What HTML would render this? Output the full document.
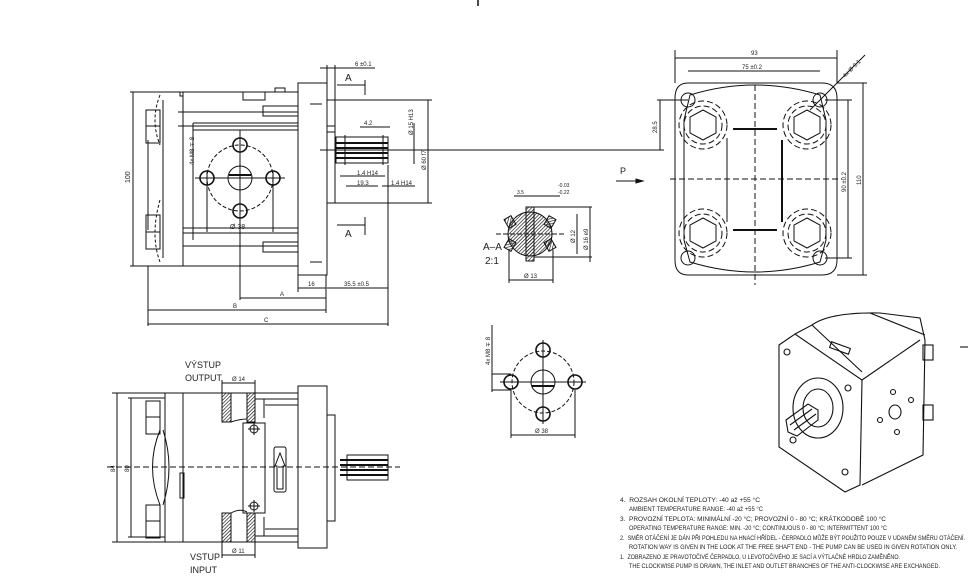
<!DOCTYPE html>
<html><head><meta charset="utf-8"><style>
html,body{margin:0;padding:0;background:#fff}
svg{display:block}
text{font-family:"Liberation Sans",sans-serif;fill:#222}
</style></head><body>
<svg width="975" height="577" viewBox="0 0 975 577" xmlns="http://www.w3.org/2000/svg" stroke="#111" fill="none" stroke-width="1">
<line x1="478" y1="0" x2="478" y2="6" stroke-width="1.5"/>
<!-- ===== Side view top ===== -->
<g>
<line x1="130" y1="92" x2="298" y2="92"/>
<line x1="130" y1="266" x2="298" y2="266"/>
<line x1="183" y1="92" x2="183" y2="266"/>
<rect x="180" y="92" width="3" height="4"/>
<path d="M160 95 Q150 120 160 145 M160 200 Q150 235 160 262" stroke-dasharray="3 2"/>
<rect x="146" y="110" width="14" height="33"/><line x1="146" y1="126" x2="160" y2="126"/>
<rect x="146" y="215" width="14" height="34"/><line x1="146" y1="232" x2="160" y2="232"/>
<line x1="163" y1="100" x2="163" y2="258"/>
<line x1="148" y1="140" x2="148" y2="230"/>
<line x1="178" y1="112" x2="298" y2="112"/><line x1="178" y1="126" x2="298" y2="126"/>
<line x1="193" y1="123" x2="298" y2="123"/><line x1="193" y1="130" x2="298" y2="130"/>
<line x1="183" y1="228" x2="298" y2="228"/><line x1="183" y1="233" x2="298" y2="233"/>
<line x1="183" y1="246" x2="298" y2="246"/>
<rect x="263" y="106" width="35" height="10"/>
<rect x="263" y="242" width="35" height="10"/>
<path d="M243 92 V100 H265 V92"/><rect x="275" y="88" width="10" height="4"/>
<line x1="193" y1="123" x2="193" y2="240"/>
<rect x="298" y="83" width="29" height="192"/>
<rect x="327" y="100" width="8" height="103"/>
<line x1="327" y1="126" x2="335" y2="126"/><line x1="327" y1="132" x2="335" y2="132"/>
<line x1="310" y1="104" x2="322" y2="104"/><line x1="310" y1="262" x2="322" y2="262"/>
<rect x="336" y="137" width="52" height="26"/>
<line x1="336" y1="143" x2="388" y2="143" stroke-width="2"/>
<line x1="336" y1="148" x2="388" y2="148" stroke-width="2"/>
<line x1="336" y1="153" x2="388" y2="153" stroke-width="2"/>
<line x1="336" y1="158" x2="388" y2="158" stroke-width="2"/>
<line x1="345" y1="135" x2="345" y2="165"/><line x1="383" y1="135" x2="383" y2="165"/>
<line x1="320" y1="150" x2="460" y2="150"/>
<circle cx="240" cy="178" r="33" stroke-dasharray="4 2"/>
<circle cx="240" cy="178" r="12"/>
<line x1="229" y1="175" x2="251" y2="175" stroke-width="2"/>
<circle cx="207" cy="178" r="7" stroke-width="1.6"/><circle cx="273" cy="178" r="7" stroke-width="1.6"/>
<circle cx="240" cy="145" r="7" stroke-width="1.6"/><circle cx="240" cy="211" r="7" stroke-width="1.6"/>
<line x1="195" y1="178" x2="285" y2="178"/><line x1="240" y1="130" x2="240" y2="300"/>
<line x1="207" y1="172" x2="207" y2="232"/><line x1="273" y1="172" x2="273" y2="232"/>
<line x1="207" y1="228" x2="273" y2="228"/>
<text x="230" y="229" font-size="7" stroke="none">Ø 38</text>
<line x1="193" y1="170" x2="193" y2="192"/>
<text transform="translate(194,165) rotate(-90)" font-size="6" stroke="none">4x M8 ∓ 8</text>
<line x1="133" y1="92" x2="133" y2="266"/>
<text transform="translate(130,183) rotate(-90)" font-size="7" stroke="none">100</text>
<line x1="148" y1="266" x2="148" y2="326"/>
<line x1="298" y1="275" x2="298" y2="292"/>
<line x1="326" y1="275" x2="326" y2="313"/>
<line x1="388" y1="165" x2="388" y2="326"/>
<line x1="298" y1="288" x2="326" y2="288"/><line x1="327" y1="288" x2="388" y2="288"/>
<text x="308" y="286" font-size="6" stroke="none">16</text>
<text x="344" y="286" font-size="6" stroke="none">35.5 ±0.5</text>
<line x1="240" y1="298" x2="326" y2="298"/><text x="280" y="296" font-size="6" stroke="none">A</text>
<line x1="148" y1="310" x2="326" y2="310"/><text x="233" y="308" font-size="6" stroke="none">B</text>
<line x1="148" y1="324" x2="388" y2="324"/><text x="264" y="322" font-size="6" stroke="none">C</text>
<line x1="320" y1="68" x2="375" y2="68"/><text x="355" y="66" font-size="6" stroke="none">6 ±0.1</text>
<line x1="327" y1="65" x2="327" y2="83"/><line x1="335" y1="65" x2="335" y2="100"/>
<text x="345" y="81" font-size="10" stroke="none">A</text>
<path d="M337 85 H365 M365 80 V95"/>
<text x="345" y="237" font-size="10" stroke="none">A</text>
<path d="M337 225 H365 M365 217 V235"/>
<line x1="335" y1="100" x2="432" y2="100"/><line x1="335" y1="203" x2="432" y2="203"/>
<line x1="428" y1="100" x2="428" y2="203"/>
<text transform="translate(426,170) rotate(-90)" font-size="6" stroke="none">Ø 60 f7</text>
<line x1="414" y1="123" x2="414" y2="164"/>
<text transform="translate(413,135) rotate(-90)" font-size="6" stroke="none">Ø 15 H13</text>
<line x1="360" y1="127" x2="390" y2="127"/><text x="364" y="125" font-size="6" stroke="none">4.2</text>
<line x1="340" y1="176" x2="385" y2="176"/><text x="357" y="175" font-size="6" stroke="none">1.4 H14</text>
<line x1="346" y1="186" x2="378" y2="186"/><text x="357" y="185" font-size="6" stroke="none">19.3</text>
<line x1="382" y1="186" x2="415" y2="186"/><text x="391" y="185" font-size="6" stroke="none">1.4 H14</text>
</g>
<!-- ===== Front view ===== -->
<g>
<line x1="460" y1="150" x2="664" y2="150"/>
<path d="M688 83 H822 Q837 83 837 98 V260 Q837 275 822 275 H688 Q675 275 675 260 V98 Q675 83 688 83 Z"/>
<path d="M690 95 Q755 75 820 95 L826 120 V240 L820 262 Q755 282 690 262 L684 240 V120 Z"/>
<circle cx="688" cy="100" r="7"/><circle cx="820" cy="100" r="7"/>
<circle cx="688" cy="258" r="7"/><circle cx="820" cy="258" r="7"/>
<polygon points="703,110 716,117 716,133 703,140 690,133 690,117"/><circle cx="703" cy="125" r="19" stroke-dasharray="6 3"/><circle cx="703" cy="125" r="24" stroke-dasharray="6 3"/>
<polygon points="807,110 820,117 820,133 807,140 794,133 794,117"/><circle cx="807" cy="125" r="19" stroke-dasharray="6 3"/><circle cx="807" cy="125" r="24" stroke-dasharray="6 3"/>
<polygon points="703,218 716,225 716,241 703,248 690,241 690,225"/><circle cx="703" cy="233" r="19" stroke-dasharray="6 3"/><circle cx="703" cy="233" r="24" stroke-dasharray="6 3"/>
<polygon points="807,218 820,225 820,241 807,248 794,241 794,225"/><circle cx="807" cy="233" r="19" stroke-dasharray="6 3"/><circle cx="807" cy="233" r="24" stroke-dasharray="6 3"/>
<line x1="733" y1="129" x2="777" y2="129" stroke-width="2"/><line x1="733" y1="230" x2="777" y2="230" stroke-width="2"/>
<line x1="727" y1="138" x2="727" y2="222"/><line x1="782" y1="140" x2="782" y2="222" stroke-width="2"/>
<line x1="755" y1="85" x2="755" y2="285" stroke-dasharray="6 3"/>
<line x1="670" y1="179" x2="842" y2="179" stroke-dasharray="6 3"/>
<line x1="675" y1="50" x2="675" y2="83"/><line x1="837" y1="50" x2="837" y2="83"/>
<line x1="675" y1="58" x2="837" y2="58"/><text x="751" y="55" font-size="6" stroke="none">93</text>
<line x1="688" y1="71" x2="820" y2="71"/><text x="742" y="69" font-size="6" stroke="none">75 ±0.2</text>
<line x1="810" y1="110" x2="865" y2="55"/><text transform="translate(845,78) rotate(-45)" font-size="6" stroke="none">4x Ø 9.1</text>
<line x1="657" y1="100" x2="688" y2="100"/><line x1="660" y1="100" x2="660" y2="150"/>
<text transform="translate(657,133) rotate(-90)" font-size="6" stroke="none">28.5</text>
<line x1="825" y1="100" x2="852" y2="100"/><line x1="825" y1="258" x2="852" y2="258"/>
<line x1="848" y1="100" x2="848" y2="258"/><text transform="translate(846,192) rotate(-90)" font-size="6" stroke="none">90 ±0.2</text>
<line x1="837" y1="83" x2="867" y2="83"/><line x1="837" y1="275" x2="867" y2="275"/>
<line x1="863" y1="83" x2="863" y2="275"/><text transform="translate(861,185) rotate(-90)" font-size="6" stroke="none">110</text>
<text x="620" y="174" font-size="9" stroke="none">P</text>
<path d="M616 181 H643"/><polygon points="643,181 636,179 636,183" fill="#111"/>
</g>
<!-- ===== A-A section ===== -->
<g>
<defs><pattern id="h" width="2.5" height="2.5" patternUnits="userSpaceOnUse" patternTransform="rotate(45)"><line x1="0" y1="0" x2="0" y2="2.5" stroke="#111" stroke-width="1.3"/></pattern></defs>
<circle cx="530" cy="234" r="22" fill="url(#h)"/>
<rect x="526" y="207" width="8" height="54" fill="url(#h)"/>
<rect x="506" y="217" width="8" height="10" fill="url(#h)" transform="rotate(-30 510 222)"/>
<rect x="546" y="217" width="8" height="10" fill="url(#h)" transform="rotate(30 550 222)"/>
<rect x="506" y="240" width="8" height="10" fill="url(#h)" transform="rotate(30 510 245)"/>
<rect x="546" y="240" width="8" height="10" fill="url(#h)" transform="rotate(-30 550 245)"/>
<line x1="496" y1="234" x2="566" y2="234" stroke-dasharray="5 2"/>
<text x="483" y="250" font-size="10" stroke="none">A–A</text>
<text x="485" y="264" font-size="10" stroke="none">2:1</text>
<line x1="514" y1="196" x2="560" y2="196"/><text x="517" y="194" font-size="5" stroke="none">3.5</text>
<text x="558" y="187" font-size="5" stroke="none">-0.03</text><text x="558" y="194" font-size="5" stroke="none">-0.22</text>
<line x1="534" y1="207" x2="592" y2="207"/><line x1="534" y1="257" x2="592" y2="257"/>
<line x1="577" y1="214" x2="577" y2="254"/><line x1="590" y1="207" x2="590" y2="262"/>
<text transform="translate(575,243) rotate(-90)" font-size="6" stroke="none">Ø 12</text>
<text transform="translate(588,250) rotate(-90)" font-size="6" stroke="none">Ø 16 e9</text>
<line x1="509" y1="250" x2="509" y2="283"/><line x1="553" y1="250" x2="553" y2="283"/>
<line x1="509" y1="280" x2="553" y2="280"/><text x="524" y="278" font-size="6" stroke="none">Ø 13</text>
</g>
<!-- ===== small port view ===== -->
<g>
<circle cx="543" cy="382" r="31" stroke-dasharray="4 2"/>
<circle cx="543" cy="382" r="12"/>
<line x1="532" y1="386" x2="554" y2="386" stroke-width="2"/>
<circle cx="511" cy="382" r="7" stroke-width="1.6"/><circle cx="575" cy="382" r="7" stroke-width="1.6"/>
<circle cx="543" cy="350" r="7" stroke-width="1.6"/><circle cx="543" cy="414" r="7" stroke-width="1.6"/>
<line x1="500" y1="382" x2="586" y2="382"/><line x1="543" y1="340" x2="543" y2="424"/>
<line x1="511" y1="390" x2="511" y2="438"/><line x1="575" y1="390" x2="575" y2="438"/>
<line x1="511" y1="435" x2="575" y2="435"/><text x="535" y="433" font-size="6" stroke="none">Ø 38</text>
<line x1="492" y1="325" x2="492" y2="392"/><line x1="492" y1="374" x2="511" y2="374"/><line x1="492" y1="390" x2="511" y2="390"/>
<text transform="translate(490,365) rotate(-90)" font-size="6" stroke="none">4x M8 ∓ 8</text>
</g>
<!-- ===== bottom view ===== -->
<g>
<line x1="112" y1="393" x2="298" y2="393"/><line x1="112" y1="542" x2="298" y2="542"/>
<line x1="183" y1="393" x2="183" y2="542"/>
<line x1="165" y1="393" x2="165" y2="542"/>
<rect x="146" y="401" width="14" height="33"/><line x1="146" y1="417" x2="160" y2="417"/>
<rect x="146" y="505" width="14" height="33"/><line x1="146" y1="521" x2="160" y2="521"/>
<path d="M160 430 Q145 467 160 505 M163 430 Q175 467 163 505"/>
<rect x="180" y="473" width="4" height="25"/>
<line x1="117" y1="393" x2="117" y2="542"/><line x1="131" y1="398" x2="131" y2="537"/>
<line x1="128" y1="398" x2="165" y2="398"/><line x1="128" y1="537" x2="165" y2="537"/>
<text transform="translate(115,472) rotate(-90)" font-size="6" stroke="none">84</text>
<text transform="translate(129,472) rotate(-90)" font-size="6" stroke="none">80</text>
<rect x="222" y="393" width="9" height="29" fill="url(#h)"/><rect x="247" y="393" width="8" height="29" fill="url(#h)"/>
<rect x="222" y="513" width="9" height="29" fill="url(#h)"/><rect x="247" y="513" width="8" height="29" fill="url(#h)"/>
<path d="M231 422 Q240 419 247 419 M231 513 Q240 508 247 512"/>
<line x1="222" y1="380" x2="222" y2="393"/><line x1="255" y1="380" x2="255" y2="393"/>
<line x1="222" y1="383" x2="255" y2="383"/><text x="232" y="381" font-size="6" stroke="none">Ø 14</text>
<line x1="222" y1="542" x2="222" y2="558"/><line x1="255" y1="542" x2="255" y2="558"/>
<line x1="222" y1="555" x2="255" y2="555"/><text x="232" y="553" font-size="6" stroke="none">Ø 11</text>
<text x="185" y="368" font-size="9" stroke="none">VÝSTUP</text><text x="185" y="381" font-size="9" stroke="none">OUTPUT</text>
<text x="190" y="560" font-size="9" stroke="none">VSTUP</text><text x="190" y="573" font-size="9" stroke="none">INPUT</text>
<rect x="243" y="423" width="22" height="90"/>
<circle cx="254" cy="429" r="4"/><line x1="248" y1="429" x2="260" y2="429"/><line x1="254" y1="423" x2="254" y2="435"/>
<circle cx="254" cy="506" r="4"/><line x1="248" y1="506" x2="260" y2="506"/><line x1="254" y1="500" x2="254" y2="512"/>
<rect x="274" y="447" width="12" height="45" rx="2"/>
<path d="M277 489 V466 H275 L280 453 L285 466 H283 V489 Z"/>
<line x1="255" y1="399" x2="298" y2="399"/><line x1="265" y1="405" x2="298" y2="405"/>
<line x1="265" y1="529" x2="298" y2="529"/><line x1="255" y1="536" x2="298" y2="536"/>
<line x1="264" y1="399" x2="264" y2="418"/><line x1="264" y1="517" x2="264" y2="536"/>
<rect x="298" y="386" width="29" height="162"/>
<rect x="327" y="415" width="8" height="106"/>
<rect x="347" y="455" width="41" height="25"/>
<line x1="340" y1="460" x2="388" y2="460" stroke-width="2"/><line x1="340" y1="465" x2="388" y2="465" stroke-width="2"/>
<line x1="340" y1="470" x2="388" y2="470" stroke-width="2"/><line x1="340" y1="475" x2="388" y2="475" stroke-width="2"/>
<line x1="107" y1="467" x2="400" y2="467" stroke-dasharray="6 3"/>
</g>
<!-- ===== isometric ===== -->
<g stroke-width="1.1">
<path d="M779 345 L795 334 L862 380 L860 485 L845 492 L779 447 Z"/>
<path d="M795 334 L812 325 L862 372"/>
<path d="M812 325 Q830 312 880 313 L920 318 L925 340 L923 455 L862 485"/>
<path d="M862 380 L920 340"/>
<path d="M870 313 L925 335"/>
<ellipse cx="818" cy="408" rx="25" ry="30"/>
<ellipse cx="818" cy="408" rx="15" ry="19"/>
<path d="M786 420 L808 404 L818 410 L818 420 L797 436 L788 432 Z"/>
<line x1="790" y1="425" x2="812" y2="409"/><line x1="794" y1="430" x2="816" y2="414"/>
<circle cx="787" cy="352" r="3"/><circle cx="848" cy="388" r="3"/><circle cx="793" cy="440" r="3"/><circle cx="845" cy="472" r="3"/>
<ellipse cx="895" cy="412" rx="6" ry="7"/><circle cx="893" cy="392" r="2.5"/><circle cx="911" cy="400" r="2.5"/><circle cx="880" cy="420" r="2.5"/><circle cx="897" cy="432" r="2.5"/>
<rect x="830" y="345" width="20" height="6" transform="rotate(20 840 348)"/>
<rect x="923" y="345" width="10" height="15"/><rect x="923" y="405" width="10" height="15"/>
<line x1="960" y1="347" x2="968" y2="347"/>
</g>
<!-- ===== notes ===== -->
<g font-size="6" stroke="none">
<text x="620" y="502" textLength="140" lengthAdjust="spacingAndGlyphs">4.&#160;&#160;ROZSAH OKOLNÍ TEPLOTY: -40 až +55 °C</text>
<text x="629" y="511" textLength="134" lengthAdjust="spacingAndGlyphs">AMBIENT TEMPERATURE RANGE: -40 až +55 °C</text>
<text x="620" y="521" textLength="266" lengthAdjust="spacingAndGlyphs">3.&#160;&#160;PROVOZNÍ TEPLOTA: MINIMÁLNÍ -20 °C; PROVOZNÍ 0 - 80 °C; KRÁTKODOBĚ 100 °C</text>
<text x="629" y="530" textLength="258" lengthAdjust="spacingAndGlyphs">OPERATING TEMPERATURE RANGE: MIN. -20 °C; CONTINUOUS 0 - 80 °C; INTERMITTENT 100 °C</text>
<text x="620" y="540" textLength="345" lengthAdjust="spacingAndGlyphs">2.&#160;&#160;SMĚR OTÁČENÍ JE DÁN PŘI POHLEDU NA HNACÍ HŘÍDEL - ČERPADLO MŮŽE BÝT POUŽITO POUZE V UDANÉM SMĚRU OTÁČENÍ.</text>
<text x="629" y="549" textLength="328" lengthAdjust="spacingAndGlyphs">ROTATION WAY IS GIVEN IN THE LOOK AT THE FREE SHAFT END - THE PUMP CAN BE USED IN GIVEN ROTATION ONLY.</text>
<text x="620" y="559" textLength="280" lengthAdjust="spacingAndGlyphs">1.&#160;&#160;ZOBRAZENO JE PRAVOTOČIVÉ ČERPADLO, U LEVOTOČIVÉHO JE SACÍ A VÝTLAČNÉ HRDLO ZAMĚNĚNO.</text>
<text x="629" y="568" textLength="311" lengthAdjust="spacingAndGlyphs">THE CLOCKWISE PUMP IS DRAWN, THE INLET AND OUTLET BRANCHES OF THE ANTI-CLOCKWISE ARE EXCHANGED.</text>
</g>
</svg>
</body></html>
